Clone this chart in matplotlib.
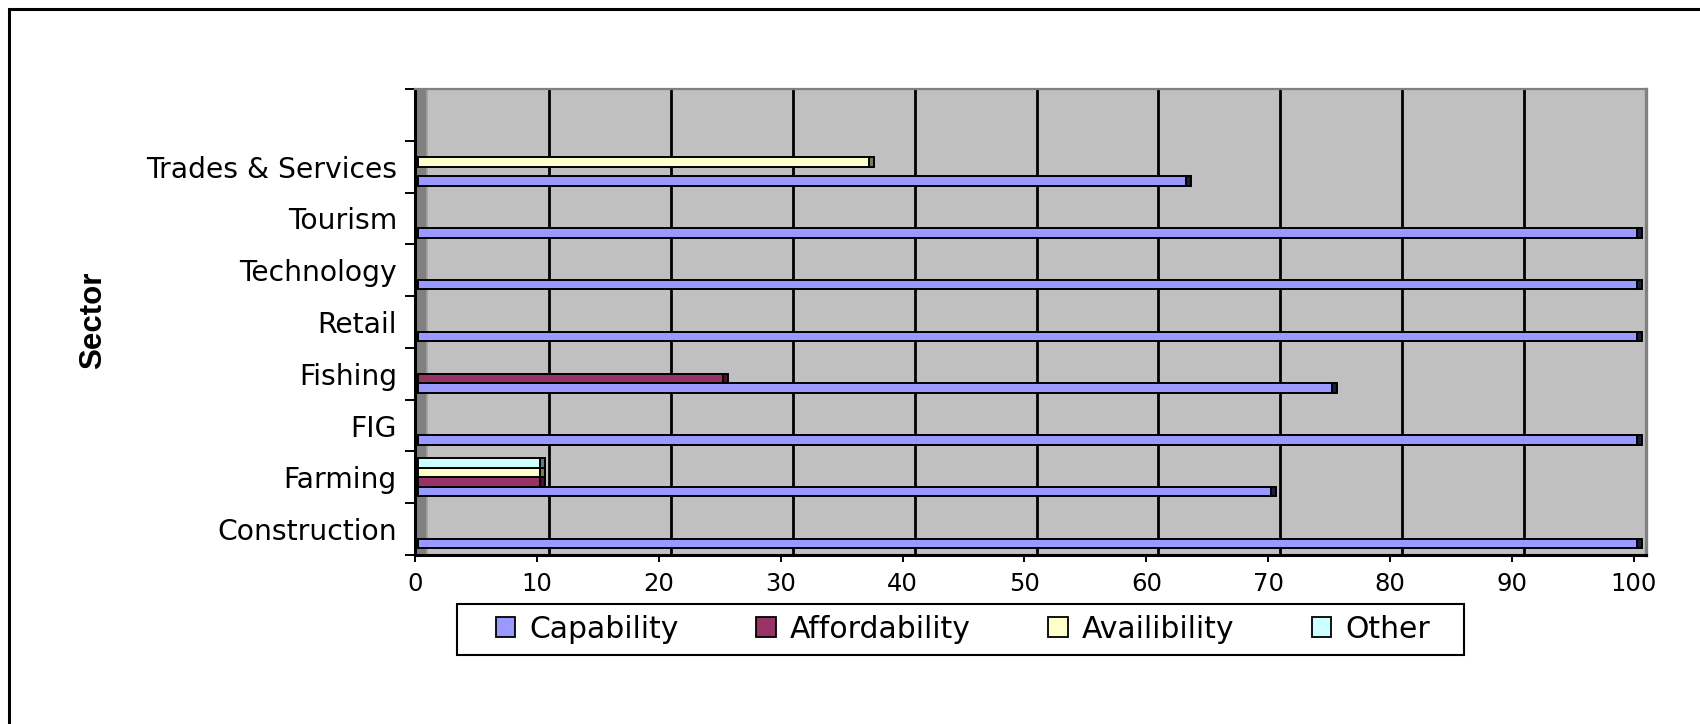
import numpy as np
import matplotlib
matplotlib.use('Agg')
import matplotlib.pyplot as plt
import matplotlib.transforms as mtransforms
from matplotlib.patches import Patch, Rectangle

# 数据
sectors = ['Construction', 'Farming', 'FIG', 'Fishing', 'Retail',
           'Technology', 'Tourism', 'Trades & Services']
series_names = ['Capability', 'Affordability', 'Availibility', 'Other']
capability = [100, 70, 100, 75, 100, 100, 100, 63]
affordability = [0, 10, 0, 25, 0, 0, 0, 0]
availibility = [0, 10, 0, 0, 0, 0, 0, 37]
other = [0, 10, 0, 0, 0, 0, 0, 0]
x_ticks = [0, 10, 20, 30, 40, 50, 60, 70, 80, 90, 100]

series_values = [capability, affordability, availibility, other]
colors = ['#9999FF', '#993366', '#FFFFCC', '#CCFFFF']
cap_colors = ['#1c1c40', '#4a1430', '#7a7a60', '#5f7a7a']

plt.rcParams['font.family'] = ['DejaVu Sans']

fig = plt.figure(figsize=(17, 7.24), dpi=100)
W, H = 1700, 724
ax = fig.add_axes([415 / W, 1 - 555 / H, (1646 - 415) / W, (555 - 89) / H])
ax.set_facecolor('#C0C0C0')

depth = 1.0        # 立体深度（x 轴单位）
bar_h = 0.185      # 每个条形的高度（类别间距单位）
cap_w = 0.4        # 条形端面宽度
ypos = np.arange(len(sectors))

# 左侧“地板”与背景网格线
ax.axvspan(0, depth, color='#808080', zorder=0.5, lw=0)
ax.axvline(depth, color='#A0A0A0', lw=1.2, zorder=0.6)
ax.vlines(np.array(x_ticks[1:-1]) + depth, -0.5, len(sectors) + 0.5,
          colors='black', lw=2.0, zorder=1)

# 条形整体向右平移一点，模拟立体效果
bar_trans = mtransforms.Affine2D().translate(0.25, 0) + ax.transData

for i, vals in enumerate(series_values):
    vals = np.array(vals, dtype=float)
    mask = vals > 0
    y = ypos[mask] + (i - 1.5) * bar_h
    ax.barh(y, vals[mask], height=bar_h, left=0, color=colors[i],
            edgecolor='black', linewidth=1.4, zorder=2, transform=bar_trans)
    ax.barh(y, cap_w, height=bar_h, left=vals[mask], color=cap_colors[i],
            edgecolor='black', linewidth=1.4, zorder=2, transform=bar_trans)

ax.set_xlim(0, 100 + depth)
ax.set_ylim(-0.5, len(sectors) + 0.5)

# 坐标轴
ax.set_xticks(x_ticks)
ax.set_xticklabels([str(t) for t in x_ticks], fontsize=17.5)
ax.tick_params(axis='x', direction='out', length=5, width=1.4, pad=7)

ax.set_yticks(np.arange(-0.5, len(sectors) + 1, 1))
ax.set_yticklabels([])
ax.set_yticks(ypos, minor=True)
ax.set_yticklabels(sectors, minor=True, fontsize=20.3)
ax.tick_params(axis='y', which='major', direction='out', length=7.5, width=1.4)
ax.tick_params(axis='y', which='minor', length=0, pad=13)

for side in ['left', 'bottom']:
    ax.spines[side].set_linewidth(2.2)
    ax.spines[side].set_color('black')
ax.spines['top'].set_color('#808080')
ax.spines['top'].set_linewidth(1.6)
ax.spines['right'].set_color('#808080')
ax.spines['right'].set_linewidth(2.4)

fig.text(93 / W, 1 - 320 / H, 'Sector', rotation=90, fontsize=22.5,
         fontweight='bold', family=['Liberation Sans', 'DejaVu Sans'],
         ha='center', va='center')

# 图例
handles = [Patch(facecolor=c, edgecolor='black', linewidth=1.3) for c in colors]
leg = fig.legend(handles, series_names, loc='center',
                 bbox_to_anchor=(963 / W, 1 - 629 / H), ncol=4, frameon=False,
                 fontsize=21.5, handlelength=0.65, handleheight=0.65,
                 handletextpad=0.47, columnspacing=2.6)
fig.add_artist(Rectangle((457 / W, 1 - 655 / H), (1464 - 457) / W, 51 / H,
                         transform=fig.transFigure, fill=False,
                         edgecolor='black', linewidth=1.5))

# 外框（只露出左边和上边）
fig.add_artist(Rectangle((8.5 / W, -0.1), 1.2, (H - 8.5) / H + 0.1,
                         transform=fig.transFigure, fill=False,
                         edgecolor='black', linewidth=2.2, clip_on=False))

fig.savefig('out.png', dpi=100)
